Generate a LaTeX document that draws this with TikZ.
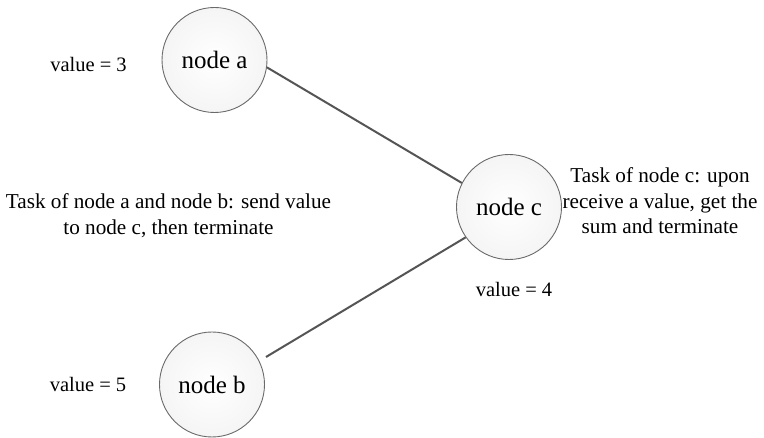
\documentclass[tikz,border=0pt]{standalone}
\usepackage{fontspec}
\setmainfont{Liberation Serif}
\definecolor{rimgray}{HTML}{6A6A6A}
\definecolor{linkgray}{HTML}{555555}
\begin{document}
\begin{tikzpicture}[x=1pt,y=-1pt,
  procnode/.style={circle, draw=rimgray, line width=0.9pt, minimum size=105pt,
    inner sep=0pt, inner color=white, outer color=gray!8,
    font=\fontsize{25}{28}\selectfont},
  link/.style={draw=linkgray, line width=2pt},
  valnote/.style={font=\fontsize{20.5}{25}\selectfont, inner sep=0pt, anchor=base},
  tasknote/.style={font=\fontsize{21.2}{25.5}\selectfont, align=center, inner sep=0pt, anchor=base}]
  \useasboundingbox (0,0) rectangle (764,438);

  % processes
  \node[procnode] (a) at (214.5,60) {node a};
  \node[procnode] (c) at (509,207) {node c};
  \node[procnode] (b) at (212,384.5) {node b};

  % channels towards the collector
  \coordinate (bout) at (266,357);
  \draw[link] (a.-8) -- (c.153);
  \draw[link] (bout) -- (c.215);

  % values held by each process
  \node[valnote] (va) at (88.5,72) {value = 3};
  \node[valnote] (vc) at (514,297) {value = 4};
  \node[valnote] (vb) at (88,392) {value = 5};

  % task descriptions (anchored at the baseline of the last line)
  \node[tasknote] (ta) at (168.5,234.5) {Task of node a and node b: send value\\to node c, then terminate};
  \node[tasknote] (tc) at (660,234) {Task of node c: upon\\receive a value, get the\\sum and terminate};
\end{tikzpicture}
\end{document}
